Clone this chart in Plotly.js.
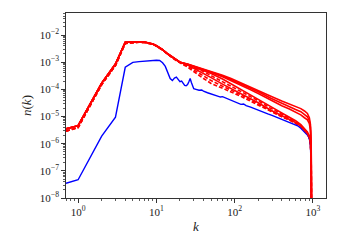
<!DOCTYPE html>
<html><head><meta charset="utf-8">
<script src="https://cdn.plot.ly/plotly-3.0.1.min.js"></script>
<style>html,body{margin:0;padding:0;background:#fff}</style>
</head><body><div id="c" style="width:338px;height:248px"></div>
<script>
// wavenumbers
const kLow  = [0.7, 1, 2, 3, 4, 5, 6, 7, 8, 9, 10, 12, 14, 16, 18];
const kHigh = [20, 25, 30, 40, 50, 70, 90, 120, 160, 200, 290, 400, 500, 600, 700, 780, 850, 900, 930, 950, 960];
// red low-k shared part
const redLowSolid  = [3.5e-6, 4.6e-6, 1.7e-4, 8.5e-4, 5.4e-3, 5.6e-3, 5.6e-3, 5.5e-3, 5.2e-3, 4.7e-3, 4.0e-3, 2.9e-3, 2.0e-3, 1.5e-3, 1.2e-3];
const redLowDashed = [2.9e-6, 3.9e-6, 1.5e-4, 7.5e-4, 4.9e-3, 5.3e-3, 5.4e-3, 5.3e-3, 5.0e-3, 4.6e-3, 3.9e-3, 2.8e-3, 1.95e-3, 1.45e-3, 1.15e-3];
// red high-k parts (solid)
const r1 = [1.0e-3, 8.5e-4, 7.2e-4, 5.6e-4, 4.6e-4, 3.3e-4, 2.5e-4, 1.75e-4, 1.25e-4, 9.5e-5, 5.6e-5, 3.7e-5, 2.9e-5, 2.35e-5, 1.95e-5, 1.6e-5, 1.3e-5, 9e-6, 5e-6, 1e-6, 1e-9];
const r2 = [1.0e-3, 8.4e-4, 7.1e-4, 5.5e-4, 4.4e-4, 3.1e-4, 2.3e-4, 1.58e-4, 1.1e-4, 8.2e-5, 4.7e-5, 3.0e-5, 2.3e-5, 1.8e-5, 1.5e-5, 1.2e-5, 9.8e-6, 7e-6, 4e-6, 8e-7, 1e-9];
const r3 = [1.0e-3, 8.3e-4, 7.0e-4, 5.4e-4, 4.2e-4, 2.9e-4, 2.1e-4, 1.42e-4, 9.6e-5, 7.0e-5, 3.9e-5, 2.5e-5, 1.9e-5, 1.45e-5, 1.15e-5, 9e-6, 7.5e-6, 5.5e-6, 3e-6, 6e-7, 1e-9];
const r4 = [1.0e-3, 8.2e-4, 6.8e-4, 5.1e-4, 3.8e-4, 2.4e-4, 1.6e-4, 1.0e-4, 6.4e-5, 4.4e-5, 2.3e-5, 1.35e-5, 9.5e-6, 7e-6, 5e-6, 3.4e-6, 2.7e-6, 1.9e-6, 1.2e-6, 3e-7, 1e-9];
const r5 = [1.0e-3, 7.8e-4, 6.0e-4, 3.9e-4, 2.7e-4, 1.55e-4, 1.05e-4, 7e-5, 4.6e-5, 3.2e-5, 1.7e-5, 1.05e-5, 7.8e-6, 6e-6, 4.4e-6, 3.0e-6, 2.4e-6, 1.7e-6, 1.05e-6, 2.6e-7, 1e-9];
// red high-k parts (dashed)
const d1 = [1.0e-3, 8.0e-4, 6.4e-4, 4.5e-4, 3.2e-4, 1.9e-4, 1.3e-4, 8.5e-5, 5.5e-5, 3.8e-5, 2.0e-5, 1.2e-5, 8.8e-6, 6.5e-6, 4.7e-6, 3.2e-6, 2.6e-6, 1.8e-6, 1.1e-6, 2.8e-7, 1e-9];
const d2 = [9.8e-4, 7.3e-4, 5.2e-4, 3.1e-4, 2.1e-4, 1.3e-4, 9.5e-5, 6.3e-5, 4.1e-5, 2.9e-5, 1.6e-5, 1.0e-5, 7.6e-6, 5.8e-6, 4.3e-6, 2.9e-6, 2.3e-6, 1.6e-6, 1e-6, 2.5e-7, 1e-9];
const d3 = [9.5e-4, 6.6e-4, 4.4e-4, 2.5e-4, 1.65e-4, 1.05e-4, 8e-5, 5.5e-5, 3.6e-5, 2.6e-5, 1.5e-5, 9.8e-6, 7.4e-6, 5.7e-6, 4.2e-6, 2.85e-6, 2.25e-6, 1.6e-6, 1e-6, 2.5e-7, 1e-9];
// blue spectrum
const kBlue = [0.7, 1, 2, 3, 4, 5, 6, 7, 8, 9, 10, 11, 12, 13, 14, 15, 16, 17, 18, 19, 20, 21, 22, 23, 24, 25, 26, 27, 28, 29, 30, 32, 35, 38, 40, 45, 50, 55, 60, 66, 70, 80, 90, 100, 110, 120, 130, 140, 160, 180, 200, 230, 265, 300, 350, 400, 450, 500, 550, 600, 650, 700, 750, 800, 850, 880, 910, 930, 945, 955, 960];
const blue  = [3.5e-8, 4.7e-8, 1.9e-6, 9.5e-6, 6.5e-4, 9.8e-4, 1.05e-3, 1.1e-3, 1.12e-3, 1.15e-3, 1.17e-3, 1.15e-3, 9.5e-4, 7e-4, 4e-4, 2.5e-4, 2.1e-4, 2.6e-4, 2.8e-4, 2.3e-4, 1.9e-4, 2.0e-4, 1.7e-4, 1.4e-4, 1.35e-4, 1.5e-4, 1.9e-4, 2.5e-4, 1.8e-4, 1.2e-4, 1.05e-4, 1.0e-4, 9.3e-5, 9.5e-5, 8.5e-5, 7.5e-5, 6.8e-5, 6.5e-5, 6.0e-5, 5.2e-5, 5.4e-5, 4.6e-5, 4.1e-5, 3.6e-5, 3.2e-5, 2.8e-5, 2.9e-5, 2.5e-5, 2.2e-5, 1.9e-5, 1.75e-5, 1.5e-5, 1.25e-5, 1.1e-5, 9.2e-6, 8e-6, 7e-6, 6.2e-6, 5.5e-6, 4.9e-6, 4.4e-6, 3.7e-6, 3.1e-6, 2.6e-6, 2.1e-6, 1.8e-6, 1.3e-6, 8e-7, 2e-7, 1e-8, 1e-9];
// tick labels
const yTickVals = [1e-8, 1e-7, 1e-6, 1e-5, 1e-4, 1e-3, 1e-2];
const yTickText = ['10<sup>−8</sup>', '10<sup>−7</sup>', '10<sup>−6</sup>', '10<sup>−5</sup>', '10<sup>−4</sup>', '10<sup>−3</sup>', '10<sup>−2</sup>'];
const xTickVals = [1, 10, 100, 1000];
const xTickText = ['10<sup>0</sup>', '10<sup>1</sup>', '10<sup>2</sup>', '10<sup>3</sup>'];

const RED = '#ff0000', BLUE = '#0000ff';
function redTrace(low, high, dash) {
  return {x: kLow.concat(kHigh), y: low.concat(high), type: 'scatter', mode: 'lines',
          line: {color: RED, width: 1.6, dash: dash}, hoverinfo: 'skip'};
}
const traces = [
  redTrace(redLowDashed, d3, '4px,2px'),
  redTrace(redLowDashed, d2, '4px,2px'),
  redTrace(redLowDashed, d1, '4px,2px'),
  {x: kBlue, y: blue, type: 'scatter', mode: 'lines', line: {color: BLUE, width: 1.4}},
  redTrace(redLowSolid, r5, 'solid'),
  redTrace(redLowSolid, r4, 'solid'),
  redTrace(redLowSolid, r3, 'solid'),
  redTrace(redLowSolid, r2, 'solid'),
  redTrace(redLowSolid, r1, 'solid')
];
function minorVals(lo, hi) {
  const v = [];
  for (let e = lo; e <= hi; e++) for (let m = 2; m <= 9; m++) v.push(m * Math.pow(10, e));
  return v;
}
const font = {family: 'Liberation Serif, DejaVu Serif, serif', size: 11, color: '#222'};
const titleFont = {family: 'Liberation Serif, DejaVu Serif, serif', size: 13, color: '#222'};
const layout = {
  width: 338, height: 248,
  margin: {l: 66, r: 12, t: 13, b: 50},
  paper_bgcolor: '#fff', plot_bgcolor: '#fff',
  showlegend: false,
  font: font,
  xaxis: {type: 'log', range: [Math.log10(0.7), 3.167], showgrid: false, zeroline: false,
          showline: true, mirror: true, linecolor: '#333', linewidth: 1.3,
          ticks: 'outside', ticklen: 3.5, tickwidth: 1, tickcolor: '#333',
          tickmode: 'array', tickvals: xTickVals, ticktext: xTickText, tickfont: font,
          minor: {ticks: 'outside', ticklen: 2, tickwidth: 0.8, tickcolor: '#333', tickmode: 'array', tickvals: minorVals(-1, 3), showgrid: false},
          title: {text: '<i>k</i>', font: titleFont, standoff: 5}},
  yaxis: {type: 'log', range: [-8, -1.19], showgrid: false, zeroline: false,
          showline: true, mirror: true, linecolor: '#333', linewidth: 1.3,
          ticks: 'outside', ticklen: 3.5, tickwidth: 1, tickcolor: '#333',
          tickmode: 'array', tickvals: yTickVals, ticktext: yTickText, tickfont: font,
          minor: {ticks: 'outside', ticklen: 2, tickwidth: 0.8, tickcolor: '#333', tickmode: 'array', tickvals: minorVals(-8, -2), showgrid: false},
          title: {text: '<i>n</i>(<i>k</i>)', font: titleFont, standoff: 5}}
};
Plotly.newPlot('c', traces, layout, {displayModeBar: false, staticPlot: true});
</script></body></html>
